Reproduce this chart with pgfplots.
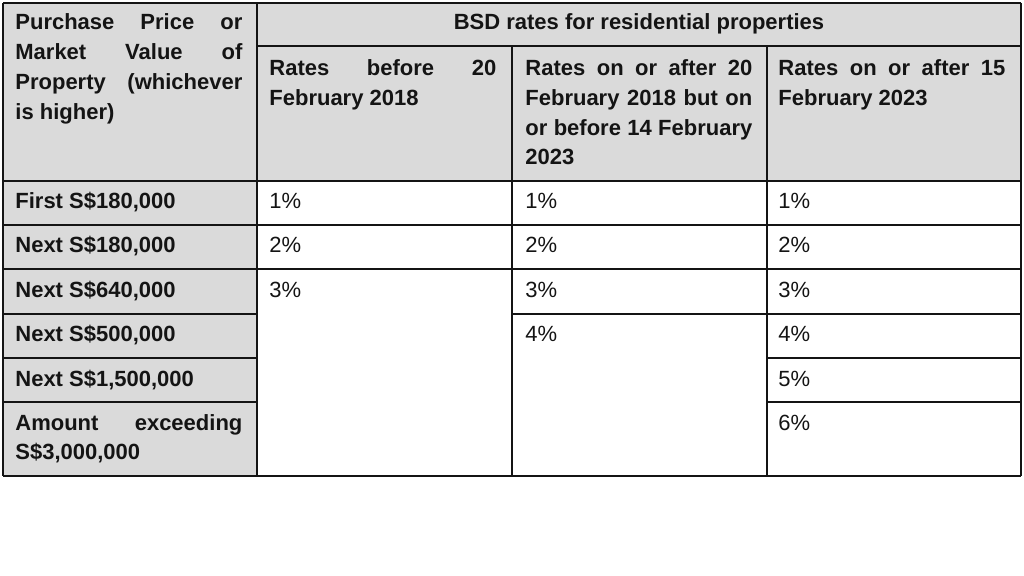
\documentclass[border=0pt]{standalone}
\usepackage{fontspec}
\setmainfont{Liberation Sans}
\usepackage{pgfplots}
\pgfplotsset{compat=1.18}
\definecolor{cellgray}{RGB}{218,218,218}
\definecolor{ink}{RGB}{20,20,20}

% one text line, baseline at (x,y), justified to the cell width when asked
\newcommand{\jline}[3]{\node[anchor=base west,inner sep=0pt,text=ink] at (axis cs:#1,#2) {\makebox[113.5pt][s]{#3}};}
\newcommand{\tline}[3]{\node[anchor=base west,inner sep=0pt,text=ink] at (axis cs:#1,#2) {#3};}

\begin{document}
\begin{tikzpicture}
\begin{axis}[
  width=512pt, height=288pt, scale only axis,
  xmin=0, xmax=1024, ymin=0, ymax=576,
  y dir=reverse, hide axis, clip=false,
  font=\fontsize{11}{15}\selectfont,
  rule/.style={draw=ink, line width=1pt, mark=none},
]
% page extent
\addplot[draw=none] coordinates {(0,0)(1024,576)};

% grey header and first column
\addplot[fill=cellgray, draw=none] coordinates {(3,3)(1021,3)(1021,181)(3,181)} --cycle;
\addplot[fill=cellgray, draw=none] coordinates {(3,181)(257,181)(257,476)(3,476)} --cycle;

% rules
\addplot[rule] coordinates {(3,3)(1021,3)};
\addplot[rule] coordinates {(257,46)(1021,46)};
\addplot[rule] coordinates {(3,181)(1021,181)};
\addplot[rule] coordinates {(3,225)(1021,225)};
\addplot[rule] coordinates {(3,269)(1021,269)};
\addplot[rule] coordinates {(3,314)(257,314)};
\addplot[rule] coordinates {(512,314)(1021,314)};
\addplot[rule] coordinates {(3,358)(257,358)};
\addplot[rule] coordinates {(767,358)(1021,358)};
\addplot[rule] coordinates {(3,402)(257,402)};
\addplot[rule] coordinates {(767,402)(1021,402)};
\addplot[rule] coordinates {(3,476)(1021,476)};
\addplot[rule] coordinates {(3,3)(3,476)};
\addplot[rule] coordinates {(257,3)(257,476)};
\addplot[rule] coordinates {(512,46)(512,476)};
\addplot[rule] coordinates {(767,46)(767,476)};
\addplot[rule] coordinates {(1021,3)(1021,476)};

% header
\node[anchor=base,inner sep=0pt,text=ink] at (axis cs:639,30) {\bfseries BSD rates for residential properties};
\jline{15}{30}{\bfseries Purchase Price or}
\jline{15}{60}{\bfseries Market Value of}
\jline{15}{90}{\bfseries Property (whichever}
\tline{15}{120}{\bfseries is higher)}

\jline{269}{76}{\bfseries Rates before 20}
\tline{269}{106}{\bfseries February 2018}

\jline{525}{76}{\bfseries Rates on or after 20}
\jline{525}{106}{\bfseries February 2018 but on}
\jline{525}{135.5}{\bfseries or before 14 February}
\tline{525}{165}{\bfseries 2023}

\jline{778}{76}{\bfseries Rates on or after 15}
\tline{778}{106}{\bfseries February 2023}

% first column
\tline{15}{209}{\bfseries First S\$180,000}
\tline{15}{253}{\bfseries Next S\$180,000}
\tline{15}{298}{\bfseries Next S\$640,000}
\tline{15}{342}{\bfseries Next S\$500,000}
\tline{15}{387}{\bfseries Next S\$1,500,000}
\jline{15}{431}{\bfseries Amount exceeding}
\tline{15}{460}{\bfseries S\$3,000,000}

% rates
\tline{269}{209}{1\%}
\tline{269}{253}{2\%}
\tline{269}{298}{3\%}

\tline{525}{209}{1\%}
\tline{525}{253}{2\%}
\tline{525}{298}{3\%}
\tline{525}{342}{4\%}

\tline{778}{209}{1\%}
\tline{778}{253}{2\%}
\tline{778}{298}{3\%}
\tline{778}{342}{4\%}
\tline{778}{387}{5\%}
\tline{778}{431}{6\%}
\end{axis}
\end{tikzpicture}
\end{document}
